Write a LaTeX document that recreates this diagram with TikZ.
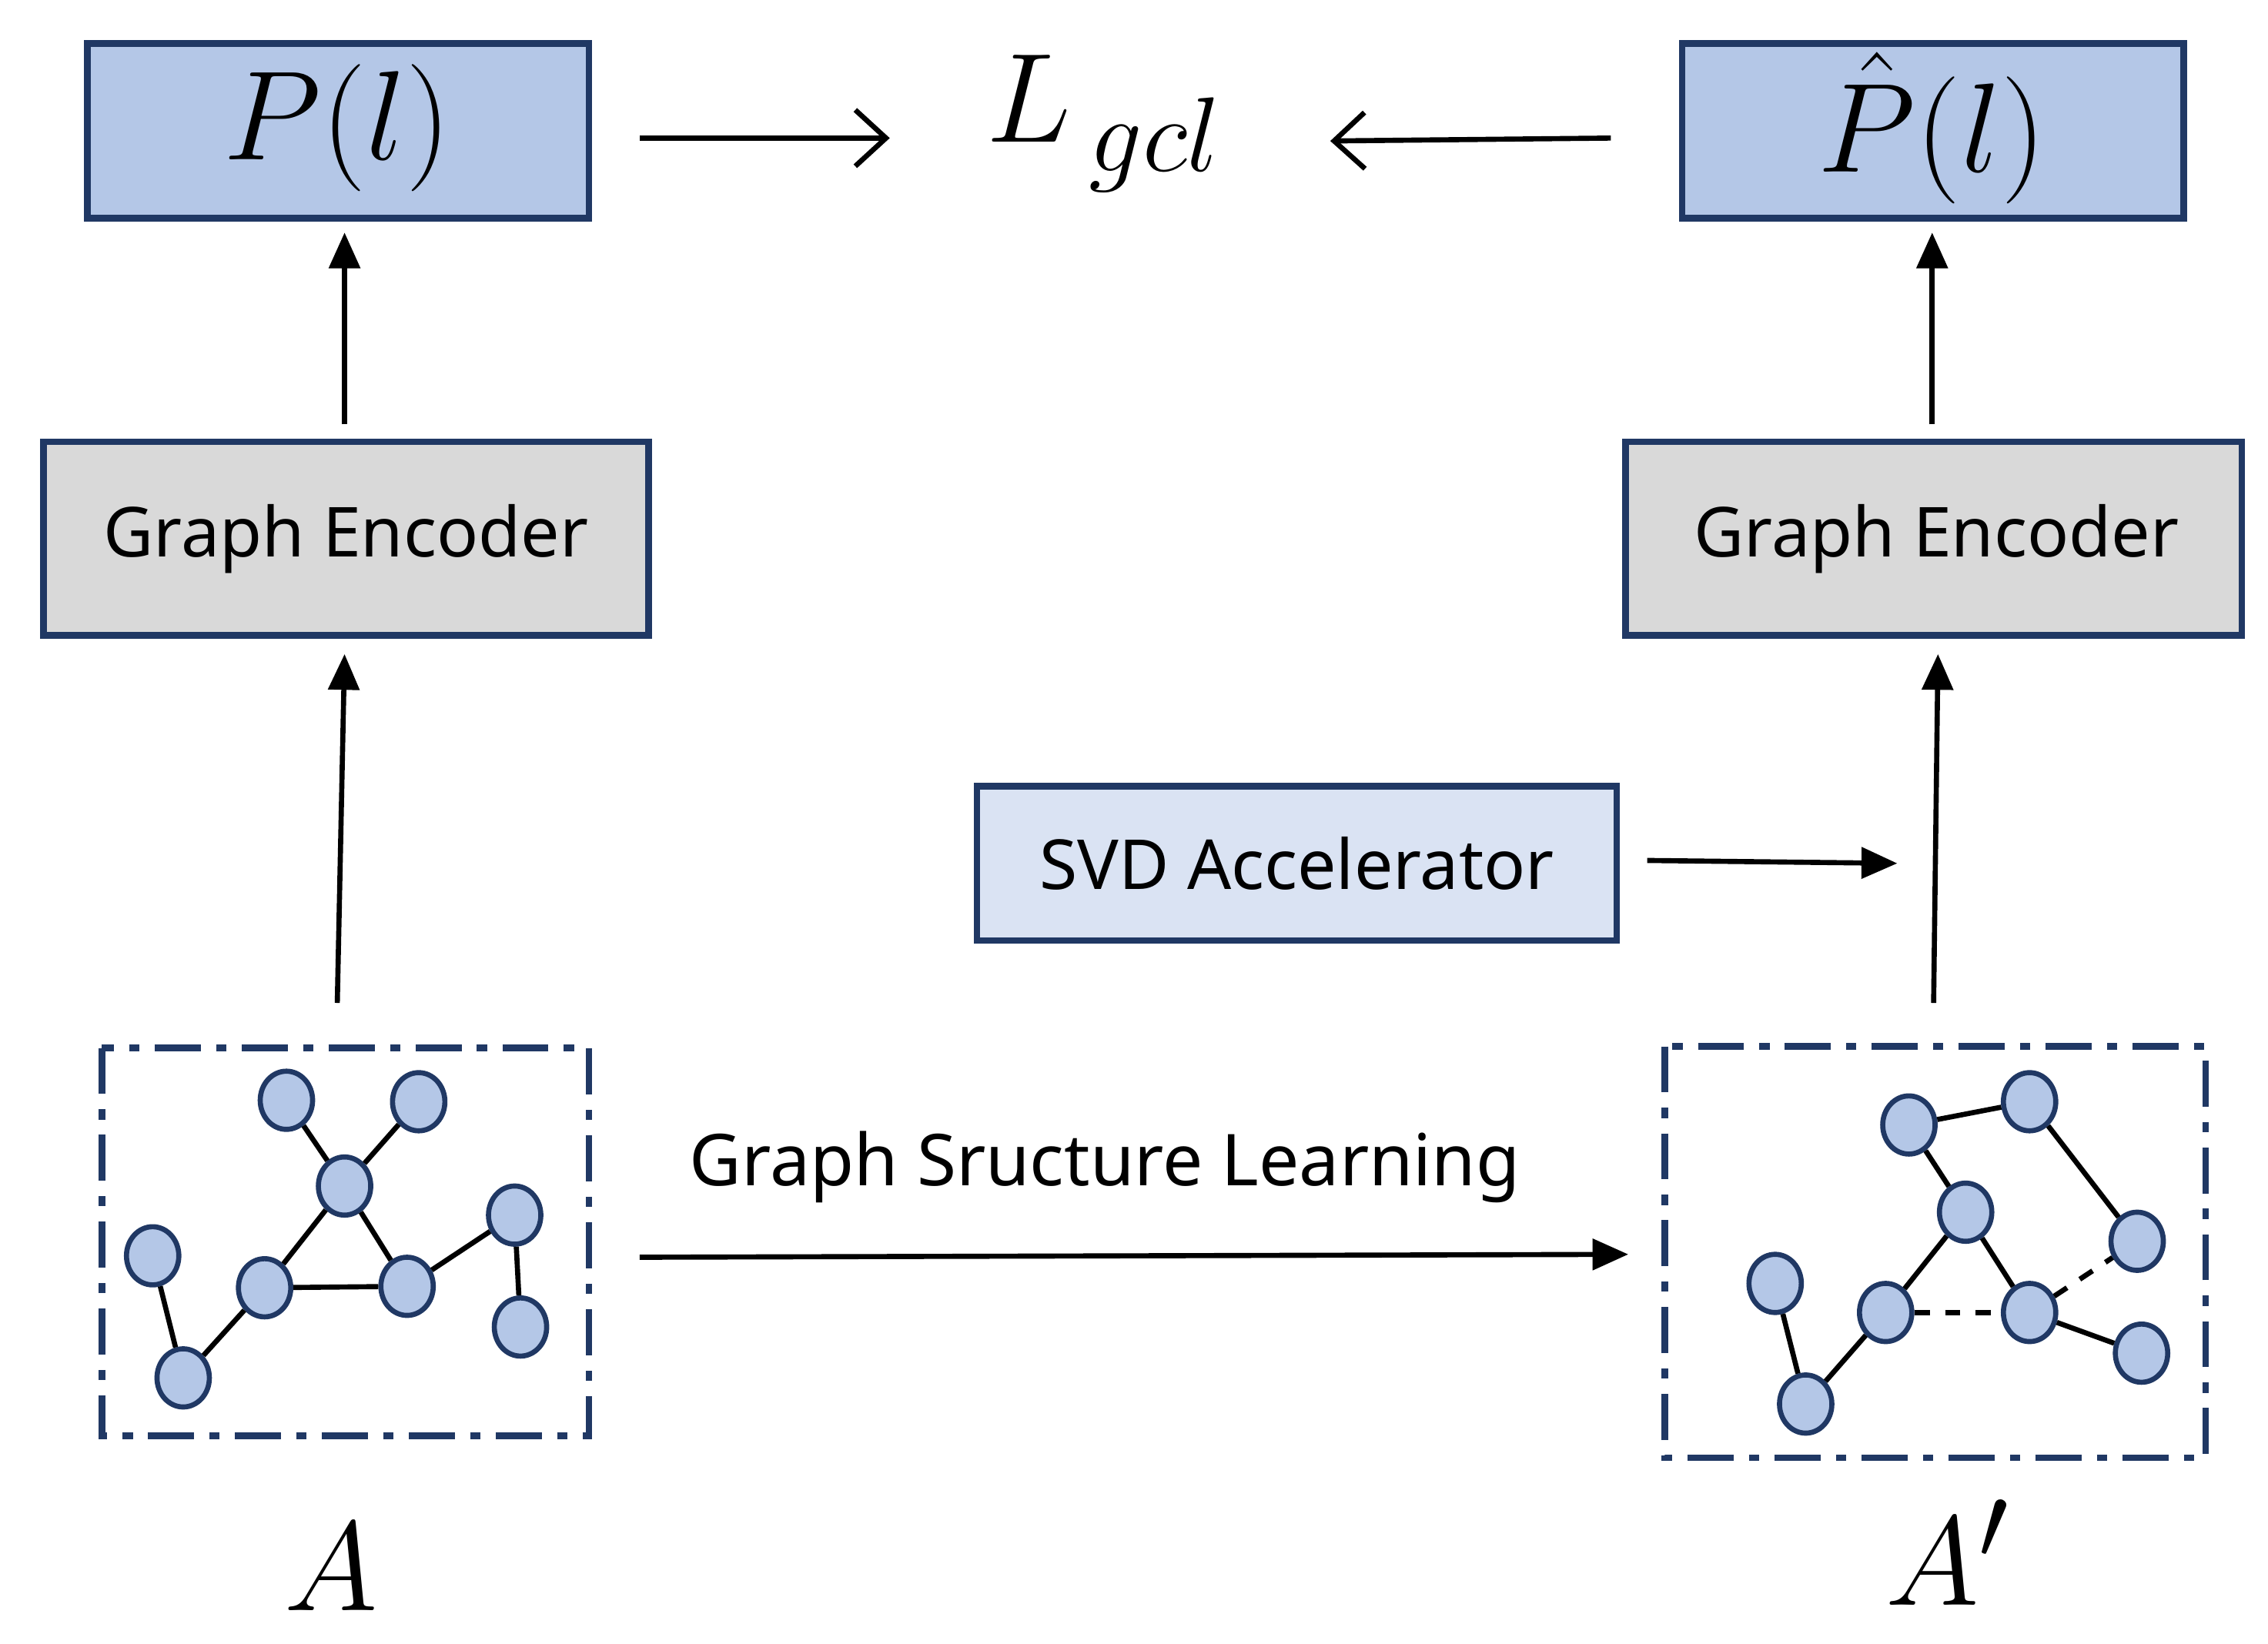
\documentclass[tikz,border=0pt]{standalone}
\usepackage{fontspec}
\setmainfont{Noto Sans}
\usetikzlibrary{arrows.meta,shapes.geometric}
\definecolor{bd}{HTML}{203864}
\definecolor{bl}{HTML}{B4C7E7}
\definecolor{lb}{HTML}{DAE3F3}
\definecolor{gr}{HTML}{D9D9D9}
\begin{document}
\begin{tikzpicture}[x=0.01cm,y=-0.01cm,
 box/.style={draw=bd,line width=1.3pt},
 gn/.style={ellipse,draw=bd,fill=bl,line width=1pt,minimum width=0.36cm,minimum height=0.40cm,inner sep=0},
 ar/.style={-{Triangle[length=7pt,width=6pt]},line width=1pt},
 oar/.style={-{Straight Barb[length=6pt,width=11pt]},line width=1pt},
 ed/.style={line width=1pt},
 txt/.style={font=\fontsize{13.5}{16}\selectfont}]
\useasboundingbox (0,0) rectangle (1560,1131);
\draw[box,fill=bl] (60,30) rectangle (405,150);
\node (p) at (232,88) {\fontsize{26}{30}\selectfont$P\big(l\big)$};
\draw[box,fill=bl] (1157,30) rectangle (1502,150);
\node (ph) at (1329,88) {\fontsize{26}{30}\selectfont$\hat{P}\big(l\big)$};
\node (L) at (760,85) {\fontsize{28}{32}\selectfont$L_{\,gcl}$};
\coordinate (a1) at (440,95); \coordinate (a2) at (612,95);
\coordinate (b1) at (1108,95); \coordinate (b2) at (915,97);
\draw[oar] (a1) -- (a2);
\draw[oar] (b1) -- (b2);
\draw[box,fill=gr] (30,304) rectangle (446,437);
\node[txt] (e1) at (238,371) {Graph Encoder};
\draw[box,fill=gr] (1118,304) rectangle (1542,437);
\node[txt] (e2) at (1332,371) {Graph Encoder};
\coordinate (u1) at (237,292); \coordinate (u2) at (237,160);
\coordinate (v1) at (1329,292); \coordinate (v2) at (1329,160);
\coordinate (w1) at (232,690); \coordinate (w2) at (237,450);
\coordinate (z1) at (1330,690); \coordinate (z2) at (1333,450);
\draw[ar] (u1)--(u2); \draw[ar] (v1)--(v2); \draw[ar] (w1)--(w2); \draw[ar] (z1)--(z2);
\draw[box,fill=lb] (672,541) rectangle (1112,647);
\node[txt] (svd) at (892,594) {SVD Accelerator};
\coordinate (s1) at (1133,592); \coordinate (s2) at (1305,594);
\draw[ar] (s1)--(s2);
\draw[bd,line width=1.3pt,dash pattern=on 9pt off 3pt on 2pt off 3pt] (70,721) rectangle (405,988);
\draw[bd,line width=1.3pt,dash pattern=on 9pt off 3pt on 2pt off 3pt] (1145,720) rectangle (1517,1003);
\coordinate (g1) at (440,865); \coordinate (g2) at (1120,863);
\draw[ar] (g1)--(g2);
\node[font=\fontsize{14}{17}\selectfont] (gsl) at (760,803) {Graph Sructure Learning};
% left graph
\foreach \n/\x/\y in {a/197/757,b/288/758,c/237/816,d/105/864,e/182/886,f/280/885,g/354/836,h/358/913,i/126/948}
  \node[gn] (L\n) at (\x,\y) {};
\foreach \u/\v in {a/c,b/c,c/e,c/f,e/f,f/g,g/h,e/i,i/d}
  \draw[ed] (L\u)--(L\v);
% right graph
\foreach \n/\x/\y in {a/1313/774,b/1396/758,c/1352/834,d/1470/854,e/1221/883,f/1297/903,g/1396/903,h/1473/931,i/1242/966}
  \node[gn] (R\n) at (\x,\y) {};
\foreach \u/\v in {a/b,b/d,a/c,c/f,c/g,g/h,f/i,i/e}
  \draw[ed] (R\u)--(R\v);
\draw[ed,dashed] (Rf)--(Rg); \draw[ed,dashed] (Rg)--(Rd);
\node (A) at (228,1078) {\fontsize{32}{36}\selectfont$A$};
\node (A2) at (1340,1068) {\fontsize{32}{36}\selectfont$A'$};
\end{tikzpicture}
\end{document}
